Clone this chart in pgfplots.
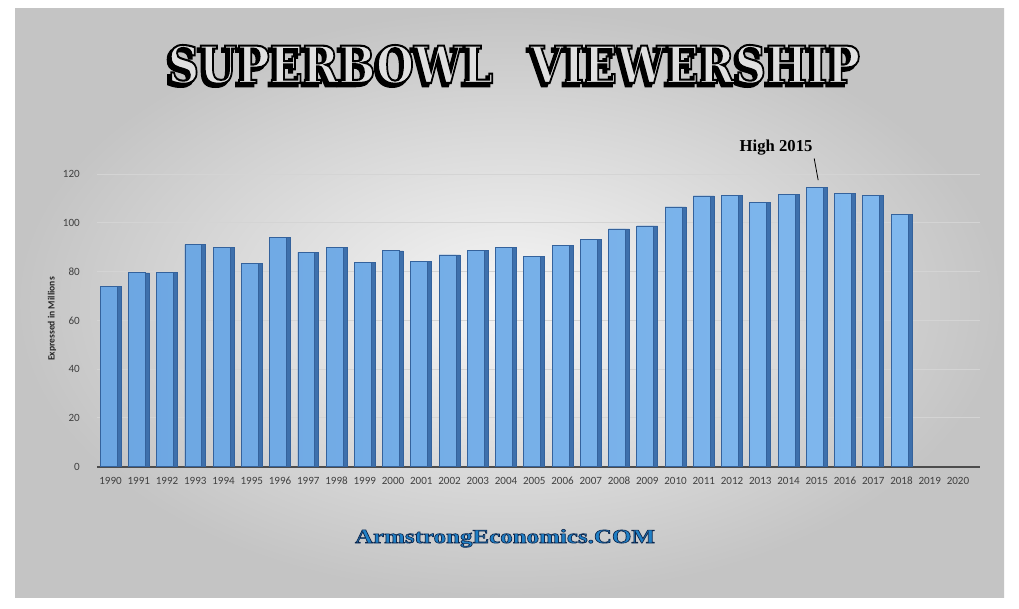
\documentclass[border=0pt]{standalone}
\usepackage{fontspec}
\setmainfont{Carlito}
\newfontfamily\serifb{Liberation Serif}
\newfontfamily\titlefont{DejaVu Serif}
\usepackage{pgfplots}
\pgfplotsset{compat=1.18}
\newcommand\outlined[3]{\special{pdf:literal direct #2 RG #1 w 2 Tr}#3\special{pdf:literal direct 0 Tr}}
\definecolor{barside}{RGB}{62,112,172}
\definecolor{barfront}{RGB}{128,184,238}
\definecolor{barfrontL}{RGB}{108,166,226}
\definecolor{baredge}{RGB}{52,98,156}
\definecolor{armblue}{RGB}{32,128,198}
\definecolor{ticktext}{RGB}{64,64,64}
\definecolor{gridc}{RGB}{212,212,212}
\pgfplotstableread{
x y
0 73.9
1 79.5
2 79.6
3 91.0
4 90.0
5 83.4
6 94.1
7 87.9
8 90.0
9 83.7
10 88.5
11 84.3
12 86.8
13 88.6
14 89.8
15 86.1
16 90.7
17 93.2
18 97.5
19 98.7
20 106.5
21 111.0
22 111.3
23 108.4
24 111.5
25 114.4
26 111.9
27 111.3
28 103.4
}\viewers
\begin{document}
\begin{tikzpicture}[x=0.75pt,y=0.75pt]
\fill[white] (0,0) rectangle (1019,608);
\shade[inner color={rgb,255:red,246;green,246;blue,246}, outer color={rgb,255:red,196;green,196;blue,196}] (15,11) rectangle (1004,599);
\begin{axis}[
  at={(72.75pt,106pt)}, anchor=south west,
  scale only axis, width=662.25pt, height=219.5pt,
  xmin=-0.48, xmax=30.78, ymin=0, ymax=120,
  axis x line*=bottom, axis y line*=left,
  x axis line style={draw=black!70, line width=1.6pt, -},
  y axis line style={draw=none},
  xtick={0,...,30},
  xticklabels={1990,1991,1992,1993,1994,1995,1996,1997,1998,1999,2000,2001,2002,2003,2004,2005,2006,2007,2008,2009,2010,2011,2012,2013,2014,2015,2016,2017,2018,2019,2020},
  ytick={0,20,...,120},
  major tick length=0pt,
  ymajorgrids, grid style={draw=gridc, line width=0.7pt},
  /pgf/number format/assume math mode=true,
  tick label style={font=\fontsize{8.3}{10}\selectfont, text=ticktext},
  yticklabel style={xshift=-9.4pt},
  xticklabel style={yshift=-4pt, text height=6pt, text depth=0pt},
  clip=false,
]
\addplot[ybar, bar width=0.74, bar shift=0, fill=barside, draw=baredge, line width=0.4pt] table[x=x,y=y]{\viewers};
\addplot[ybar, bar width=0.6, bar shift=-0.07, left color=barfrontL, right color=barfront, draw=baredge, line width=0.5pt] table[x=x,y=y]{\viewers};
\draw[black, line width=0.6pt] (axis cs:24.91,126.4) -- (axis cs:25.05,117.5);
\node[font=\serifb\bfseries\fontsize{12.5}{14}\selectfont, text=black] at (axis cs:23.56,130.9) {High 2015};
\end{axis}
\node[rotate=90, font=\bfseries\fontsize{7.2}{9}\selectfont, text=black!85] at (52,289) {Expressed in Millions};
% title: shadow, then outlined face
\node[anchor=base, inner sep=0pt] at (511,522) {\resizebox{519pt}{28.5pt}{\titlefont\bfseries\color{black}\outlined{0.5}{0 0 0}{SUPERBOWL\hspace{0.85em}VIEWERSHIP}}};
\node[anchor=base, inner sep=0pt] at (514,525) {\resizebox{519pt}{28.5pt}{\titlefont\bfseries\color{black!12}\outlined{0.4}{0 0 0}{SUPERBOWL\hspace{0.85em}VIEWERSHIP}}};
% site
\node[anchor=base, inner sep=0pt] at (505,65) {\resizebox{225pt}{10.3pt}{\serifb\bfseries\color{armblue}\outlined{0.3}{0.05 0.15 0.3}{ArmstrongEconomics.COM}}};
\end{tikzpicture}
\end{document}
